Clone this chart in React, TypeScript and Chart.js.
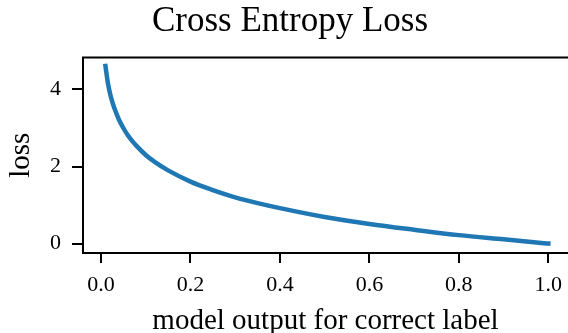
import React, { useEffect, useRef } from "react";
import { Chart, registerables } from "chart.js";

Chart.register(...registerables);

const TITLE = "Cross Entropy Loss";
const X_LABEL = "model output for correct label";
const Y_LABEL = "loss";

// model output (probability of correct label)
const outputs = [
  0.01, 0.015, 0.02, 0.025, 0.03, 0.04, 0.05, 0.06, 0.07, 0.08, 0.1, 0.12,
  0.15, 0.2, 0.25, 0.3, 0.35, 0.4, 0.5, 0.6, 0.7, 0.8, 0.9, 1.0,
];
// loss
const losses = [
  4.61, 4.2, 3.91, 3.69, 3.51, 3.22, 3.0, 2.81, 2.66, 2.53, 2.3, 2.12,
  1.9, 1.61, 1.39, 1.2, 1.05, 0.92, 0.69, 0.51, 0.36, 0.22, 0.11, 0.0,
];

const xTicks = [0.0, 0.2, 0.4, 0.6, 0.8, 1.0];
const yTicks = [0, 2, 4];

const X_MIN = -0.0402;
const X_MAX = 1.044;
const Y_MIN = -0.244;
const Y_MAX = 4.83;

const FONT = "'Liberation Serif', 'Times New Roman', serif";

const frame = {
  id: "frame",
  afterDraw(chart: any) {
    const { ctx, chartArea } = chart;
    ctx.save();
    ctx.strokeStyle = "#000";
    ctx.lineWidth = 2;
    ctx.beginPath();
    ctx.moveTo(chartArea.left - 1, chartArea.top);
    ctx.lineTo(chartArea.right + 2, chartArea.top);
    ctx.stroke();
    ctx.fillStyle = "#000";
    ctx.font = `35px ${FONT}`;
    ctx.textAlign = "center";
    ctx.textBaseline = "alphabetic";
    ctx.fillText(TITLE, 290, 31);
    ctx.restore();
  },
};

export default function App() {
  const ref = useRef<HTMLCanvasElement>(null);

  useEffect(() => {
    if (!ref.current) return;
    const chart = new Chart(ref.current, {
      type: "line",
      data: {
        datasets: [
          {
            data: outputs.map((x, i) => ({ x, y: losses[i] })),
            borderColor: "#1f77b4",
            borderWidth: 4.5,
            borderCapStyle: "square",
            pointRadius: 0,
            cubicInterpolationMode: "monotone",
            fill: false,
          },
        ],
      },
      options: {
        animation: false,
        responsive: false,
        events: [],
        layout: { padding: { left: 0, right: 0, top: 57.5, bottom: 0 } },
        plugins: {
          legend: { display: false },
          tooltip: { enabled: false },
          title: { display: false },
        },
        scales: {
          x: {
            type: "linear",
            min: X_MIN,
            max: X_MAX,
            afterBuildTicks: (s: any) => {
              s.ticks = xTicks.map((v) => ({ value: v }));
            },
            afterFit: (s: any) => {
              s.height = 80;
              s.paddingLeft = 0;
              s.paddingRight = 0;
            },
            grid: {
              display: true,
              drawOnChartArea: false,
              drawTicks: true,
              tickLength: 10,
              color: "#000",
              lineWidth: 2,
            },
            border: { display: true, color: "#000", width: 2 },
            ticks: {
              color: "#000",
              padding: 9,
              maxRotation: 0,
              font: { family: FONT, size: 22 },
              callback: (v: any) => Number(v).toFixed(1),
            },
            title: {
              display: true,
              text: X_LABEL,
              color: "#000",
              font: { family: FONT, size: 29 },
              padding: { top: 0, bottom: -6 },
            },
          },
          y: {
            type: "linear",
            min: Y_MIN,
            max: Y_MAX,
            afterBuildTicks: (s: any) => {
              s.ticks = yTicks.map((v) => ({ value: v }));
            },
            afterFit: (s: any) => {
              s.width = 83;
              s.paddingTop = 0;
              s.paddingBottom = 0;
            },
            grid: {
              display: true,
              drawOnChartArea: false,
              drawTicks: true,
              tickLength: 11,
              color: "#000",
              lineWidth: 2,
            },
            border: { display: true, color: "#000", width: 2 },
            ticks: {
              color: "#000",
              padding: 11,
              font: { family: FONT, size: 22 },
              callback: (v: any) => String(v),
            },
            title: {
              display: true,
              text: Y_LABEL,
              color: "#000",
              font: { family: FONT, size: 29 },
              padding: { top: 4, bottom: 0 },
            },
          },
        },
      },
      plugins: [frame],
    });
    return () => chart.destroy();
  }, []);

  return (
    <div
      style={{
        position: "fixed",
        left: 0,
        top: 0,
        width: 568,
        height: 333,
        background: "#fff",
      }}
    >
      <canvas ref={ref} width={568} height={333} />
    </div>
  );
}
